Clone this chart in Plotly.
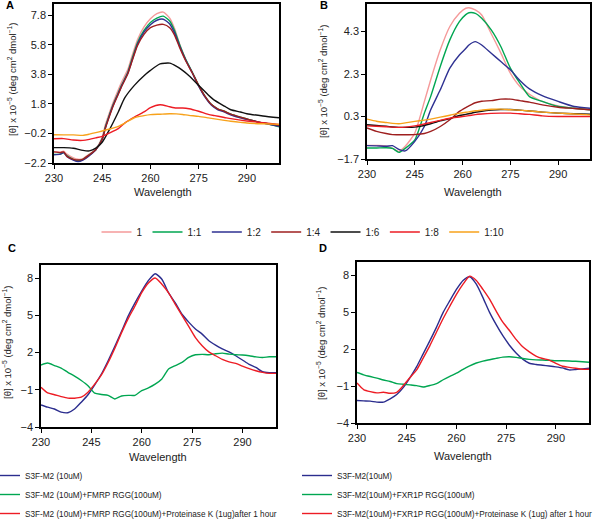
import plotly.graph_objects as go

W, H = 608, 520

# ---- data ------------------------------------------------------------------
# Panel A: titration series (ratio labels)
ratios = ["1", "1:1", "1:2", "1:4", "1:6", "1:8", "1:10"]
ratio_colors = ["#f59a9a", "#00a651", "#2e3192", "#9e1f1f", "#111111", "#ed1c24", "#f7a21b"]

wl_a_main = [230, 232, 233, 234, 236, 237.5, 239, 241, 243, 245, 246, 247, 248.5, 250, 251, 253,
             254, 256, 258, 260, 262, 264, 266, 267.5, 269, 271, 273, 275, 277, 279, 281, 283,
             285, 288, 291, 294, 297, 300]
a_1 = [-1.45, -1.45, -1.4, -1.6, -1.85, -1.95, -1.9, -1.6, -1.25, -0.45, 0.4, 1.05, 1.95, 2.75,
       3.25, 4.15, 4.85, 6.15, 7.0, 7.55, 7.9, 8.0, 7.6, 6.9, 5.9, 4.8, 3.95, 3.05, 2.3, 1.75,
       1.45, 1.25, 1.05, 0.85, 0.7, 0.55, 0.42, 0.3]
a_1_1 = [-1.62, -1.6, -1.5, -1.7, -1.95, -2.05, -1.95, -1.65, -1.3, -0.55, 0.25, 0.9, 1.8, 2.55,
         3.05, 3.95, 4.65, 5.95, 6.76, 7.3, 7.6, 7.73, 7.4, 6.75, 5.85, 4.8, 3.95, 3.05, 2.3,
         1.75, 1.45, 1.3, 1.1, 0.9, 0.72, 0.55, 0.42, 0.25]
a_1_2 = [-1.65, -1.6, -1.5, -1.75, -2.0, -2.1, -2.0, -1.7, -1.3, -0.6, 0.2, 0.85, 1.75, 2.5, 3.0,
         3.9, 4.55, 5.85, 6.65, 7.15, 7.45, 7.52, 7.2, 6.6, 5.75, 4.75, 3.9, 3.0, 2.25, 1.7, 1.4,
         1.25, 1.05, 0.85, 0.7, 0.55, 0.42, 0.28]
a_1_4 = [-1.45, -1.5, -1.45, -1.75, -1.95, -2.0, -1.95, -1.65, -1.3, -0.6, 0.15, 0.8, 1.7, 2.45,
         2.95, 3.85, 4.5, 5.75, 6.5, 6.95, 7.12, 7.17, 6.95, 6.45, 5.65, 4.7, 3.9, 3.05, 2.3,
         1.75, 1.45, 1.3, 1.1, 0.9, 0.72, 0.55, 0.45, 0.35]

wl_a_low = [230, 233, 236, 239, 241, 243, 245, 247, 250, 252, 255, 258, 260, 263, 266, 268, 270,
            272, 275, 278, 280, 283, 285, 288, 290, 295, 300]
a_1_6 = [-1.16, -1.16, -1.2, -1.35, -1.38, -1.2, -0.8, -0.05, 1.25, 2.2, 3.05, 3.7, 4.06, 4.5,
         4.55, 4.35, 4.06, 3.7, 3.05, 2.4, 2.03, 1.65, 1.4, 1.25, 1.13, 0.98, 0.86]
a_1_8 = [-0.56, -0.55, -0.65, -0.67, -0.6, -0.5, -0.4, -0.2, 0.12, 0.5, 0.91, 1.25, 1.54, 1.74,
         1.6, 1.52, 1.52, 1.47, 1.3, 1.09, 1.0, 0.88, 0.8, 0.7, 0.64, 0.52, 0.41]
a_1_10 = [-0.29, -0.3, -0.3, -0.33, -0.25, -0.15, -0.04, 0.08, 0.28, 0.5, 0.86, 1.0, 1.07, 1.1,
          1.13, 1.12, 1.08, 1.02, 0.95, 0.85, 0.78, 0.68, 0.62, 0.55, 0.5, 0.45, 0.41]

# Panel B
wl_b = [230, 233, 236, 238, 240, 242, 245, 248, 250, 253, 256, 259, 261, 262, 264, 266, 269, 272,
        275, 278, 281, 285, 290, 295, 300]
b_1 = [-1.06, -1.06, -1.08, -1.2, -1.34, -1.1, -0.48, 1.0, 2.03, 3.44, 4.54, 5.16, 5.4, 5.42,
       5.32, 5.08, 4.2, 3.3, 2.34, 1.71, 1.35, 1.01, 0.8, 0.69, 0.62]
b_1_1 = [-1.18, -1.18, -1.17, -1.2, -1.39, -1.2, -0.8, 0.46, 1.25, 2.66, 3.91, 4.77, 5.1, 5.19,
         5.16, 4.93, 4.38, 3.6, 2.58, 1.87, 1.24, 1.01, 0.77, 0.69, 0.62]
b_1_2 = [-1.07, -1.08, -1.1, -1.07, -1.25, -1.32, -0.87, -0.17, 0.62, 1.56, 2.58, 3.2, 3.5, 3.67,
         3.83, 3.67, 3.28, 2.89, 2.5, 2.0, 1.6, 1.28, 1.01, 0.77, 0.69]
b_1_4 = [-0.24, -0.4, -0.5, -0.55, -0.56, -0.56, -0.55, -0.5, -0.4, -0.17, 0.15, 0.54, 0.72, 0.8,
         0.95, 1.02, 1.05, 1.12, 1.12, 1.05, 0.98, 0.85, 0.74, 0.68, 0.62]
b_1_6 = [-0.09, -0.12, -0.16, -0.19, -0.21, -0.21, -0.2, -0.12, -0.04, 0.1, 0.2, 0.35, 0.4, 0.43,
         0.5, 0.55, 0.6, 0.63, 0.63, 0.6, 0.56, 0.51, 0.46, 0.43, 0.41]
b_1_8 = [-0.14, -0.16, -0.18, -0.2, -0.21, -0.2, -0.14, -0.05, 0.02, 0.12, 0.22, 0.28, 0.32, 0.34,
         0.39, 0.42, 0.45, 0.46, 0.46, 0.43, 0.4, 0.33, 0.3, 0.3, 0.3]
b_1_10 = [0.18, 0.08, 0.02, -0.02, -0.04, 0.0, 0.07, 0.13, 0.18, 0.27, 0.36, 0.46, 0.5, 0.52,
          0.57, 0.6, 0.64, 0.65, 0.62, 0.6, 0.56, 0.51, 0.46, 0.42, 0.38]

# Panels C and D share a wavelength grid
wl_cd = [230, 232, 234, 236, 238, 240, 242, 244, 246, 248, 250, 252, 254, 256, 258, 260, 262, 264,
         266, 268, 270, 272, 274, 276, 278, 280, 282, 284, 286, 288, 290, 292, 294, 296, 298, 300]
c_m2 = [-2.22, -2.4, -2.55, -2.8, -2.85, -2.55, -2.0, -1.4, -0.6, 0.27, 1.34, 2.5, 3.7, 4.95, 6.0,
        6.95, 7.8, 8.35, 7.9, 6.8, 6.0, 5.08, 4.45, 3.9, 3.48, 2.95, 2.6, 2.3, 2.05, 1.74, 1.4,
        1.05, 0.8, 0.45, 0.38, 0.37]
c_rgg = [0.99, 1.15, 0.95, 0.75, 0.4, 0.1, -0.25, -0.67, -1.28, -1.38, -1.45, -1.74, -1.5, -1.45,
         -1.45, -1.07, -0.85, -0.55, -0.13, 0.67, 0.95, 1.2, 1.6, 1.82, 1.85, 1.82, 1.9, 1.95,
         1.87, 1.82, 1.8, 1.74, 1.65, 1.6, 1.66, 1.66]
c_pk = [-0.8, -1.26, -1.4, -1.55, -1.67, -1.68, -1.6, -1.2, -0.55, 0.2, 1.2, 2.35, 3.6, 4.75, 5.75,
        6.82, 7.6, 8.0, 7.5, 6.8, 5.88, 5.0, 4.1, 3.2, 2.55, 2.05, 1.74, 1.45, 1.25, 1.12, 0.9,
        0.7, 0.53, 0.4, 0.32, 0.32]

d_m2 = [-2.17, -2.2, -2.22, -2.3, -2.3, -2.03, -1.68, -1.1, -0.3, 0.59, 1.65, 2.7, 3.8, 5.0, 5.95,
        6.87, 7.6, 7.9, 7.3, 6.2, 5.0, 4.0, 3.1, 2.33, 1.7, 1.2, 0.86, 0.76, 0.7, 0.64, 0.57,
        0.48, 0.32, 0.35, 0.4, 0.45]
d_rgg = [0.11, -0.08, -0.22, -0.35, -0.5, -0.62, -0.8, -0.85, -0.9, -0.96, -1.07, -0.95, -0.8,
         -0.48, -0.2, 0.05, 0.37, 0.65, 0.88, 1.04, 1.15, 1.26, 1.36, 1.39, 1.34, 1.25, 1.18,
         1.14, 1.12, 1.1, 1.07, 1.06, 1.05, 1.02, 0.98, 0.94]
d_pk = [-0.75, -1.28, -1.45, -1.55, -1.5, -1.58, -1.5, -0.95, -0.3, 0.32, 1.3, 2.3, 3.4, 4.5, 5.5,
        6.47, 7.3, 7.95, 7.6, 6.87, 6.07, 5.1, 4.2, 3.53, 2.8, 2.2, 1.79, 1.45, 1.25, 1.12, 0.85,
        0.62, 0.53, 0.45, 0.37, 0.37]

c_names = ["S3F-M2 (10uM)", "S3F-M2 (10uM)+FMRP RGG(100uM)",
           "S3F-M2 (10uM)+FMRP RGG(100uM)+Proteinase K (1ug)after 1 hour"]
d_names = ["S3F-M2(10uM)", "S3F-M2(10uM)+FXR1P RGG(100uM)",
           "S3F-M2(10uM)+FXR1P RGG(100uM)+Proteinase K (1ug) after 1 hour"]
cd_colors = ["#2b2d8e", "#00a651", "#ed1c24"]

x_ticks = [230, 245, 260, 275, 290]
a_yticks = [-2.2, -0.2, 1.8, 3.8, 5.8, 7.8]
b_yticks = [-1.7, 0.3, 2.3, 4.3]
cd_yticks = [-4, -1, 2, 5, 8]

Y_TITLE = "[θ] x 10<sup>−5</sup> (deg cm<sup>2</sup> dmol<sup>−1</sup>)"
FONT = "Liberation Sans, Arial, sans-serif"


def px_x(v):
    return v / W


def px_y(v):
    return 1 - v / H


def fmt(v):
    return f"{v:g}".replace("-", "−")


fig = go.Figure()

a_series = [(wl_a_main, a_1), (wl_a_main, a_1_1), (wl_a_main, a_1_2), (wl_a_main, a_1_4),
            (wl_a_low, a_1_6), (wl_a_low, a_1_8), (wl_a_low, a_1_10)]
b_series = [b_1, b_1_1, b_1_2, b_1_4, b_1_6, b_1_8, b_1_10]
line_kw = dict(width=1.4, shape="spline", smoothing=0.6)

for i, name in enumerate(ratios):
    wl, vals = a_series[i]
    fig.add_trace(go.Scatter(x=wl, y=vals, name=name, mode="lines", legend="legend",
                             line=dict(color=ratio_colors[i], **line_kw),
                             xaxis="x", yaxis="y"))
for i, name in enumerate(ratios):
    fig.add_trace(go.Scatter(x=wl_b, y=b_series[i], name=name, mode="lines", showlegend=False,
                             line=dict(color=ratio_colors[i], **line_kw),
                             xaxis="x2", yaxis="y2"))

for i, vals in enumerate([c_m2, c_rgg, c_pk]):
    fig.add_trace(go.Scatter(x=wl_cd, y=vals, name=c_names[i], mode="lines", legend="legend2",
                             line=dict(color=cd_colors[i], **line_kw),
                             xaxis="x3", yaxis="y3"))
for i, vals in enumerate([d_m2, d_rgg, d_pk]):
    fig.add_trace(go.Scatter(x=wl_cd, y=vals, name=d_names[i], mode="lines", legend="legend3",
                             line=dict(color=cd_colors[i], **line_kw),
                             xaxis="x4", yaxis="y4"))

# panel boxes in pixels: (left, right, top, bottom), y range, y ticks
boxes = {
    "": (54, 279, 4, 163, [-2.2, 8.55], a_yticks),
    "2": (367, 590, 4, 159, [-1.7, 5.6], b_yticks),
    "3": (41, 276, 265, 427, [-4, 9.05], cd_yticks),
    "4": (357, 589, 262, 423, [-4, 9.1], cd_yticks),
}

axis_style = dict(showline=True, linecolor="black", linewidth=1.6, mirror=True,
                  ticks="outside", ticklen=4, tickwidth=1.4, tickcolor="black",
                  showgrid=False, zeroline=False,
                  tickfont=dict(family=FONT, size=11, color="#222"))

layout = {}
for key, (l, r, t, b, yr, yt) in boxes.items():
    layout["xaxis" + key] = dict(domain=[px_x(l), px_x(r)], range=[230, 300],
                                 anchor="y" + key, tickvals=x_ticks,
                                 ticktext=[str(v) for v in x_ticks], **axis_style)
    layout["yaxis" + key] = dict(domain=[px_y(b), px_y(t)], range=yr,
                                 anchor="x" + key, tickvals=yt,
                                 ticktext=[fmt(v) for v in yt], **axis_style)

annotations = []
for letter, x, y in [("A", 10, 5), ("B", 324, 5), ("C", 12, 248), ("D", 323, 248)]:
    annotations.append(dict(text=f"<b>{letter}</b>", x=px_x(x), y=px_y(y), xref="paper",
                            yref="paper", showarrow=False, xanchor="center", yanchor="middle",
                            font=dict(family=FONT, size=11, color="black")))
for x, y in [(163, 192), (473, 192), (158, 457), (463, 456)]:
    annotations.append(dict(text="Wavelength", x=px_x(x), y=px_y(y), xref="paper", yref="paper",
                            showarrow=False, xanchor="center", yanchor="middle",
                            font=dict(family=FONT, size=11, color="#222")))
for x, y in [(12, 80), (323, 82), (7, 343), (321, 344)]:
    annotations.append(dict(text=Y_TITLE, x=px_x(x), y=px_y(y), xref="paper", yref="paper",
                            showarrow=False, textangle=-90, xanchor="center", yanchor="middle",
                            font=dict(family=FONT, size=9.5, color="#222")))

fig.update_layout(
    width=W, height=H,
    margin=dict(l=0, r=0, t=0, b=0, autoexpand=False),
    paper_bgcolor="white", plot_bgcolor="white",
    font=dict(family=FONT, size=10, color="#222"),
    annotations=annotations,
    legend=dict(orientation="h", x=px_x(303), y=px_y(232), xanchor="center", yanchor="middle",
                font=dict(size=10), bgcolor="rgba(0,0,0,0)"),
    legend2=dict(orientation="v", x=px_x(-15), y=px_y(461), xanchor="left", yanchor="top",
                 font=dict(size=8.2), bgcolor="rgba(0,0,0,0)"),
    legend3=dict(orientation="v", x=px_x(297), y=px_y(461), xanchor="left", yanchor="top",
                 font=dict(size=8.2), bgcolor="rgba(0,0,0,0)"),
    **layout,
)

# the page body has a default 8px margin; drop it so the figure sits at the window origin
fig.write_html("out.html", config={"displayModeBar": False},
               post_script="document.body.style.margin='0px';")
